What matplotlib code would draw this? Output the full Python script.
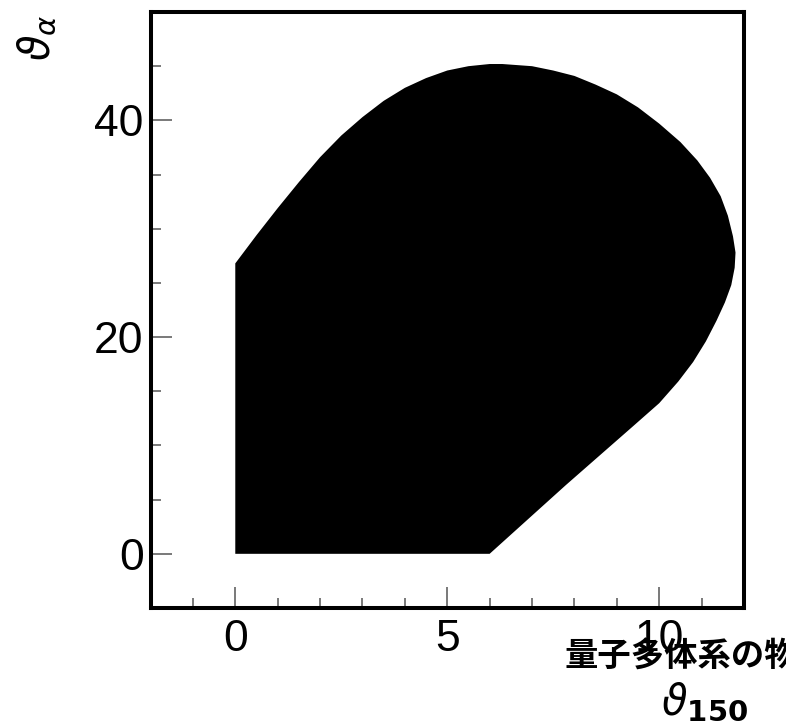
import matplotlib
matplotlib.use("Agg")
import matplotlib.pyplot as plt
from matplotlib.ticker import MultipleLocator

# Allowed region in the (theta_150, theta_alpha) plane, boundary traced counter-clockwise
theta150 = [0.0, 6.0, 7.8, 9.37, 10.0, 10.45, 10.8, 11.1, 11.35, 11.55, 11.7,
            11.78, 11.8, 11.74, 11.62, 11.45, 11.2, 10.9, 10.5, 10.0, 9.5,
            9.0, 8.5, 8.0, 7.5, 7.0, 6.3, 6.0, 5.5, 5.0, 4.5, 4.0, 3.5, 3.0,
            2.5, 2.0, 1.5, 1.0, 0.5, 0.0]
theta_alpha = [0.0, 0.0, 6.35, 11.73, 13.9, 15.9, 17.7, 19.6, 21.5, 23.2, 24.8,
               26.4, 27.8, 29.3, 31.2, 33.0, 34.7, 36.3, 38.0, 39.7, 41.2,
               42.4, 43.3, 44.1, 44.6, 45.0, 45.2, 45.2, 45.0, 44.6, 43.9, 43.0,
               41.8, 40.3, 38.6, 36.6, 34.3, 31.9, 29.4, 26.8]

x_major = [0, 5, 10]
y_major = [0, 20, 40]

W, H = 786, 727
fig = plt.figure(figsize=(W / 100, H / 100), dpi=100)
ax = fig.add_axes([150.5 / W, 1 - 608 / H, (744 - 150.5) / W, (608 - 12) / H])

ax.fill(theta150, theta_alpha, color="black", lw=0)

ax.set_xlim(-2, 12)
ax.set_ylim(-5, 50)
ax.set_xticks(x_major)
ax.set_yticks(y_major)
ax.xaxis.set_minor_locator(MultipleLocator(1))
ax.yaxis.set_minor_locator(MultipleLocator(5))

for s in ax.spines.values():
    s.set_linewidth(2.9)
    s.set_color("black")

tick_font = "Liberation Sans"
ax.tick_params(which="both", direction="in", color="#555555", width=1.1,
               top=False, right=False)
ax.tick_params(which="major", length=15, labelsize=32)
ax.tick_params(which="minor", length=7.5)
ax.tick_params(axis="y", which="major", pad=5)
ax.tick_params(axis="x", which="major", pad=8)
for lab in ax.get_xticklabels() + ax.get_yticklabels():
    lab.set_fontfamily(tick_font)

# axis titles
fig.text(38 / W, 1 - 38 / H, r"$\vartheta_{\alpha}$", rotation=90,
         fontsize=30, ha="center", va="center")
fig.text(705 / W, 1 - 702 / H, r"$\vartheta_{\mathbf{150}}$",
         fontsize=30, ha="center", va="center")
fig.text(565 / W, 1 - 656 / H, "量子多体系の物", fontsize=24,
         fontweight="bold", style="italic",
         family=["Noto Sans CJK JP", "DejaVu Sans"],
         ha="left", va="center")

fig.savefig("out.png", dpi=100)
